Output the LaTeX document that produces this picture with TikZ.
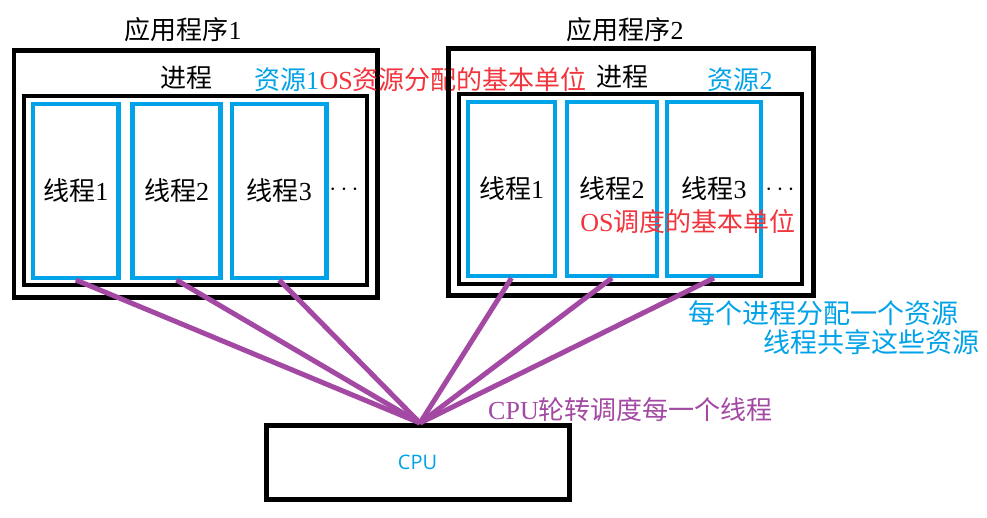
\documentclass[tikz,border=0pt]{standalone}
\usepackage{fontspec}
\setmainfont{Liberation Serif}
\newfontfamily\cjk{Noto Sans CJK SC}
\newfontfamily\uisans{Open Sans}
\definecolor{threadblue}{RGB}{0,162,232}
\definecolor{notered}{RGB}{242,52,60}
\definecolor{linkpurple}{RGB}{163,73,164}
\begin{document}
\begin{tikzpicture}[x=1pt,y=-1pt,
  appbox/.style={draw=black, line width=4.5pt, inner sep=0pt},
  procbox/.style={draw=black, line width=4pt, inner sep=0pt},
  threadbox/.style={draw=threadblue, line width=4.5pt, inner sep=0pt,
    minimum height=174pt, font=\fontsize{26}{30}\selectfont},
  lbl/.style={inner sep=0pt, font=\fontsize{26}{30}\selectfont},
  note/.style={inner sep=0pt, font=\fontsize{27}{32}\selectfont},
  cpubox/.style={draw=black, line width=5pt, inner sep=0pt,
    font=\uisans\fontsize{20}{24}\selectfont, text=threadblue},
  link/.style={draw=linkpurple, line width=5pt},
]
\useasboundingbox[fill=white] (0,0) rectangle (987,517);

% application 1
\node[appbox, minimum width=363.5pt, minimum height=247pt] (app1) at (195.75,174) {};
\node[procbox, minimum width=343pt, minimum height=189pt] (proc1) at (195.5,190.5) {};
\node[threadbox, minimum width=85.7pt] (t11) at (75.85,190.75) {{\cjk 线程}1};
\node[threadbox, minimum width=88pt] (t12) at (176.5,190.75) {{\cjk 线程}2};
\node[threadbox, minimum width=94.5pt] (t13) at (279.25,190.75) {{\cjk 线程}3};
\node[lbl] (dots1) at (344,190) {$\cdots$};
\node[lbl] (app1name) at (183,30) {{\cjk 应用程序}1};
\node[lbl] (proc1name) at (186,78) {\cjk 进程};
\node[lbl, anchor=west, text=threadblue] (res1) at (254,80) {{\cjk 资源}1};
\node[lbl, anchor=west, text=notered] (allocnote) at (res1.east) {OS{\cjk 资源分配的基本单位}};

% application 2
\node[appbox, minimum width=365pt, minimum height=247pt] (app2) at (630.8,171.9) {};
\node[procbox, minimum width=342.5pt, minimum height=190pt] (proc2) at (630.25,189) {};
\node[threadbox, minimum width=87pt] (t21) at (511.5,188.75) {{\cjk 线程}1};
\node[threadbox, minimum width=90pt] (t22) at (612,188.75) {{\cjk 线程}2};
\node[threadbox, minimum width=94pt] (t23) at (714,188.75) {{\cjk 线程}3};
\node[lbl] (dots2) at (780,190) {$\cdots$};
\node[lbl] (app2name) at (625,30) {{\cjk 应用程序}2};
\node[lbl] (proc2name) at (622,77) {\cjk 进程};
\node[lbl, text=threadblue] (res2) at (740,80) {{\cjk 资源}2};
\node[lbl, text=notered] (schednote) at (688,222) {OS{\cjk 调度的基本单位}};

% notes on resources and scheduling
\node[note, anchor=west, text=threadblue] (resnote1) at (688,313) {\cjk 每个进程分配一个资源};
\node[note, anchor=west, text=threadblue] (resnote2) at (763,342) {\cjk 线程共享这些资源};
\node[lbl, anchor=west, text=linkpurple] (cpunote) at (488,410) {CPU{\cjk 轮转调度每一个线程}};

% the processor
\node[cpubox, minimum width=303pt, minimum height=74pt] (cpu) at (417.5,462) {CPU};
\coordinate (hub) at (420,423);

% scheduling links from every thread to the processor
\foreach \t in {t11,t12,t13,t21,t22,t23}
  \draw[link] (\t.south) -- (hub);
\end{tikzpicture}
\end{document}
